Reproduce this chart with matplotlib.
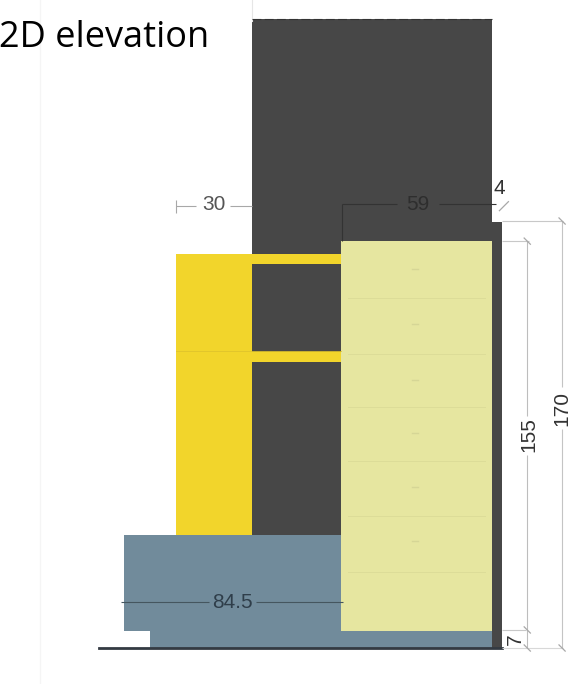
import matplotlib
matplotlib.use("Agg")
import matplotlib.pyplot as plt
from matplotlib.patches import Rectangle

# everything in cm, measured from the left of the plinth and the floor line
CM = 2.58
X0_PX = 124
FLOOR_PX = 648

# name: x, y, width, height
tower = (49.6, 43.8, 93.0, 200.0)
back_strip = (142.6, 0, 3.9, 165)
yellow_col = (20.2, 43.8, 29.4, 109)
yellow_shelf_top = (49.6, 149, 34.5, 3.8)
yellow_shelf_low = (49.6, 111, 34.5, 3.8)
plinth_upper = (0, 6.6, 84.5, 37.2)
plinth_lower = (10, 0, 132.6, 6.6)
cabinet = (84.1, 6.6, 58.5, 151)

drawer_lines = [135.5, 114, 93.5, 72.5, 51, 29.5]
drawer_marks = [147, 125.5, 104, 83.5, 62.5, 41.5]

dark = "#474747"
yellow = "#f2d52b"
cream = "#e6e6a0"
blue = "#718b9b"
LABEL_FONT = "Liberation Sans"
LABEL_SIZE = 15


def dim_line(ax, xs, ys, col="#bdbdbd", lw=0.8):
    ax.plot(xs, ys, color=col, lw=lw, solid_capstyle="butt")


def main():
    fig = plt.figure(figsize=(5.81, 6.84), dpi=100)
    ax = fig.add_axes([0, 0, 1, 1])
    ax.set_xlim(-X0_PX / CM, (581 - X0_PX) / CM)
    ax.set_ylim((FLOOR_PX - 684) / CM, FLOOR_PX / CM)
    ax.axis("off")

    # faint page edges
    ax.plot([-32.5, -32.5], [-14, 251], color="#f5f5f5", lw=1)
    ax.plot([49.6, 49.6], [243, 251], color="#e6e6e6", lw=0.8)

    for rect, col in [(tower, dark), (back_strip, dark), (yellow_col, yellow),
                      (yellow_shelf_top, yellow), (yellow_shelf_low, yellow),
                      (plinth_upper, blue), (plinth_lower, blue), (cabinet, cream)]:
        ax.add_patch(Rectangle(rect[:2], rect[2], rect[3], fc=col, ec="none"))

    # dashed top edge of the tower
    ax.plot([49.6, 142.6], [243.7, 243.7], color="#333333", lw=0.8, ls=(0, (8, 3)))
    # divider on the yellow column
    ax.plot([20.2, 84.1], [115, 115], color="#dfc42b", lw=0.6)
    # floor
    ax.plot([-9.7, 146.5], [0, 0], color="#333a42", lw=2)

    for y in drawer_lines:
        ax.plot([87, 140], [y, y], color="#dcdc98", lw=0.7)
    for y in drawer_marks:
        ax.plot([111.5, 114], [y, y], color="#d6d696", lw=1)

    # 30 dimension
    dim_line(ax, [20.2, 28], [171.5, 171.5], "#a8a8a8")
    dim_line(ax, [41, 49.6], [171.5, 171.5], "#a8a8a8")
    dim_line(ax, [20.2, 20.2], [168.5, 173.5], "#a8a8a8")
    ax.text(34.9, 171.8, "30", fontsize=LABEL_SIZE, family=LABEL_FONT, color="#555555", ha="center", va="center")

    # 59 dimension, dark on dark
    dim_line(ax, [84.5, 84.5], [157.7, 172], "#333333")
    dim_line(ax, [84.5, 106], [172, 172], "#333333")
    dim_line(ax, [122, 144], [172, 172], "#333333")
    ax.text(114, 172, "59", fontsize=LABEL_SIZE, family=LABEL_FONT, color="#2e2e2e", ha="center", va="center")

    # 4 dimension
    ax.text(145.3, 178, "4", fontsize=LABEL_SIZE, family=LABEL_FONT, color="#333333", ha="center", va="center")
    ax.plot([145.5, 149], [169.5, 173], color="#a8a8a8", lw=0.9)

    # 155 and 170
    dim_line(ax, [146.5, 170], [165.5, 165.5], "#c8c8c8")
    dim_line(ax, [146.5, 157], [157.7, 157.7], "#c8c8c8")
    dim_line(ax, [146.5, 170], [0, 0], "#d8d8d8")
    dim_line(ax, [146.5, 156], [7, 7], "#c8c8c8")
    dim_line(ax, [156.3, 156.3], [0, 75])
    dim_line(ax, [156.3, 156.3], [90, 157.7])
    dim_line(ax, [169.8, 169.8], [0, 85], "#c4c4c4")
    dim_line(ax, [169.8, 169.8], [101, 165.5], "#c4c4c4")
    for x, y in [(156.3, 157.7), (156.3, 7), (156.3, 0), (169.8, 165.5), (169.8, 0)]:
        ax.plot([x - 1.2, x + 1.2], [y + 1.2, y - 1.2], color="#a8a8a8", lw=0.9)
    ax.text(156.8, 82.6, "155", fontsize=LABEL_SIZE, family=LABEL_FONT, color="#333333", rotation=90, ha="center", va="center")
    ax.text(169.8, 93, "170", fontsize=LABEL_SIZE, family=LABEL_FONT, color="#333333", rotation=90, ha="center", va="center")
    ax.text(151.6, 3.5, "7", fontsize=LABEL_SIZE, family=LABEL_FONT, color="#333333", rotation=90, ha="center", va="center")

    # 84.5 dimension
    dim_line(ax, [-1, 33], [17.8, 17.8], "#45565f")
    dim_line(ax, [51, 85], [17.8, 17.8], "#45565f")
    ax.text(42, 17.6, "84.5", fontsize=LABEL_SIZE, family=LABEL_FONT, color="#2f3e4a", ha="center", va="center")

    # slide title, runs off the left edge in the source
    ax.text(-48.4, 236.5, "2D elevation", fontsize=26, family=["Open Sans", "DejaVu Sans"],
            color="black", ha="left", va="center")

    fig.savefig("out.png", dpi=100)


if __name__ == "__main__":
    main()
